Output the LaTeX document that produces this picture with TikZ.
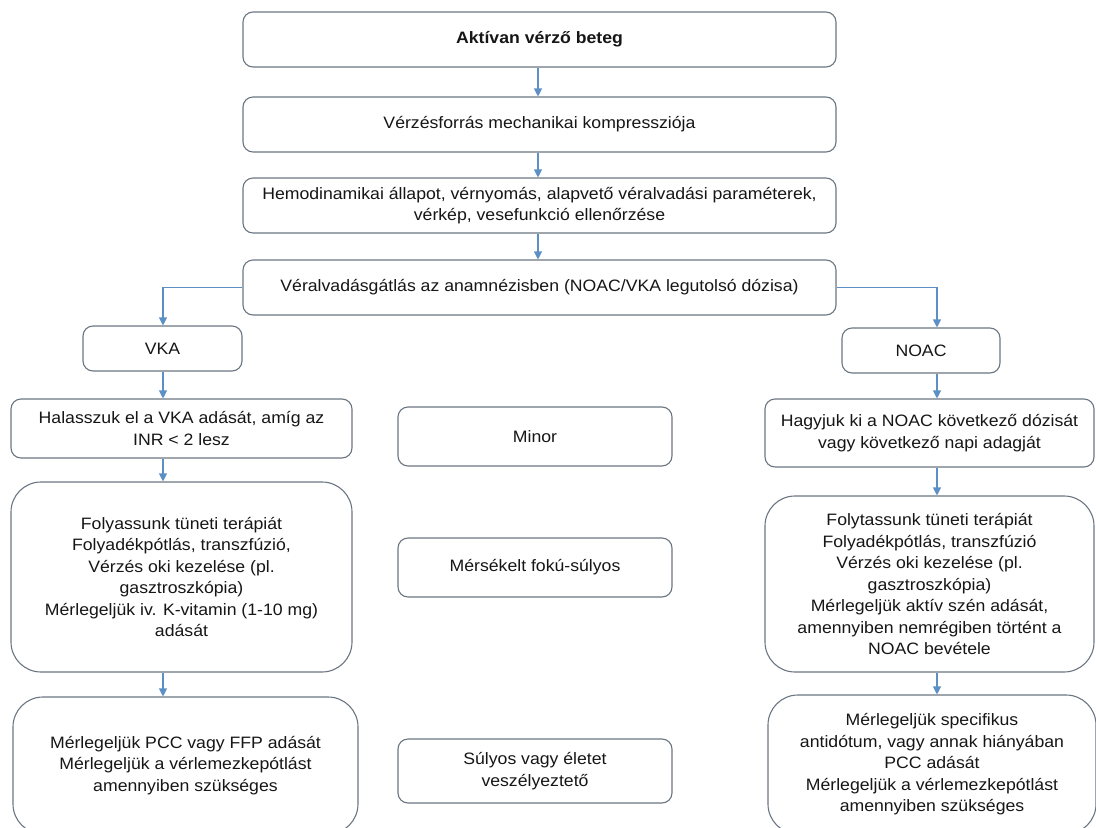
\documentclass[tikz,border=0pt]{standalone}
\usepackage{fontspec}
\setmainfont{Liberation Sans}[FakeStretch=1.07]
\usetikzlibrary{arrows.meta}
\definecolor{boxline}{RGB}{108,118,130}
\definecolor{arrowc}{RGB}{92,144,196}
\definecolor{txt}{RGB}{22,22,22}
\tikzset{
  box/.style={draw=boxline, line width=1.1pt, rounded corners=10pt, fill=white,
    text=txt, align=center, inner sep=2pt,
    font=\fontsize{16.5}{21.5}\selectfont},
  bigbox/.style={box, rounded corners=30pt},
  arr/.style={draw=arrowc, line width=1.1pt, -{Triangle[width=8pt,length=8pt]}},
}
\begin{document}
\begin{tikzpicture}[x=1pt,y=-1pt]
\useasboundingbox (0,0) rectangle (1096,828);
\clip (0,0) rectangle (1096,828);
% top column
\node[box, minimum width=593, minimum height=55] (b1) at (539.5,39.5) {\textbf{Aktívan vérző beteg}};
\node[box, minimum width=593, minimum height=55] (b2) at (539.5,124.5) {Vérzésforrás mechanikai kompressziója};
\node[box, minimum width=593, minimum height=55] (b3) at (539.5,205.5) {Hemodinamikai állapot, vérnyomás, alapvető véralvadási paraméterek,\\vérkép, vesefunkció ellenőrzése};
\node[box, minimum width=593, minimum height=55] (b4) at (539.5,287.5) {Véralvadásgátlás az anamnézisben (NOAC/VKA legutolsó dózisa)};
% branch heads
\node[box, minimum width=159, minimum height=45] (vka) at (162.5,348.5) {VKA};
\node[box, minimum width=158, minimum height=45] (noac) at (921,350.5) {NOAC};
% left column
\node[box, minimum width=341, minimum height=59] (hal) at (181.5,428.5) {Halasszuk el a VKA adását, amíg az\\INR < 2 lesz};
\node[bigbox, minimum width=341, minimum height=190] (fol) at (181.5,577) {Folyassunk tüneti terápiát\\Folyadékpótlás, transzfúzió,\\Vérzés oki kezelése (pl.\\gasztroszkópia)\\Mérlegeljük iv. K-vitamin (1-10 mg)\\adását};
\node[bigbox, minimum width=345, minimum height=137] (pcc) at (185.5,765.5) {Mérlegeljük PCC vagy FFP adását\\Mérlegeljük a vérlemezkepótlást\\amennyiben szükséges};
% middle column
\node[box, minimum width=274, minimum height=59] (minor) at (535,436.5) {Minor};
\node[box, minimum width=274, minimum height=59] (mers) at (535,567.5) {Mérsékelt fokú-súlyos};
\node[box, minimum width=274, minimum height=64] (suly) at (535,771) {Súlyos vagy életet\\veszélyeztető};
% right column
\node[box, minimum width=329, minimum height=68] (hagy) at (929.5,433) {Hagyjuk ki a NOAC következő dózisát\\vagy következő napi adagját};
\node[bigbox, minimum width=329, minimum height=176] (folt) at (929.5,584) {Folytassunk tüneti terápiát\\Folyadékpótlás, transzfúzió\\Vérzés oki kezelése (pl.\\gasztroszkópia)\\Mérlegeljük aktív szén adását,\\amennyiben nemrégiben történt a\\NOAC bevétele};
\node[bigbox, minimum width=328, minimum height=139] (spec) at (932,764.5) {Mérlegeljük specifikus\\antidótum, vagy annak hiányában\\PCC adását\\Mérlegeljük a vérlemezkepótlást\\amennyiben szükséges};
% arrow columns
\coordinate (ax) at (538,0);
\coordinate (lx) at (163,0);
\coordinate (rx) at (937,0);
\draw[arr] (b1.south -| ax) -- (b2.north -| ax);
\draw[arr] (b2.south -| ax) -- (b3.north -| ax);
\draw[arr] (b3.south -| ax) -- (b4.north -| ax);
\draw[arr] (b4.west) -| (lx |- vka.north);
\draw[arr] (b4.east) -| (rx |- noac.north);
\draw[arr] (vka.south -| lx) -- (hal.north -| lx);
\draw[arr] (hal.south -| lx) -- (fol.north -| lx);
\draw[arr] (fol.south -| lx) -- (pcc.north -| lx);
\draw[arr] (noac.south -| rx) -- (hagy.north -| rx);
\draw[arr] (hagy.south -| rx) -- (folt.north -| rx);
\draw[arr] (folt.south -| rx) -- (spec.north -| rx);
\end{tikzpicture}
\end{document}
